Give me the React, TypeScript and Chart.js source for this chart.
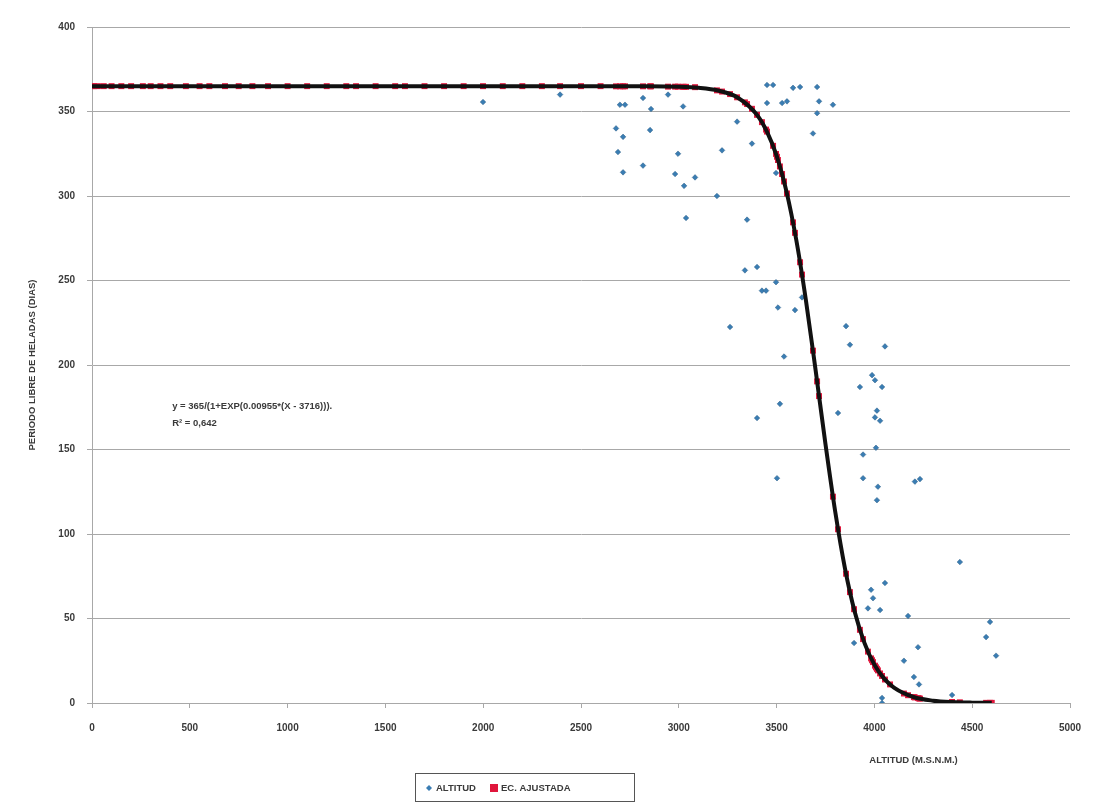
import React, { useEffect, useRef } from "react";
import { Chart, registerables } from "chart.js";

Chart.register(...registerables);

// Observed stations: altitude (m.s.n.m.) and frost-free period (days)
const obsAltitude = [
  1999, 2393, 2699, 2725, 2817, 2945, 2858, 3022, 2679, 2715, 2853, 2689, 2715, 2817, 2996, 2981,
  3083, 3027, 3037, 3195, 3221, 3298, 3374, 3349, 3451, 3482, 3451, 3528, 3553, 3584, 3620, 3707,
  3717, 3707, 3686, 3497, 3788, 3338, 3400, 3497, 3425, 3446, 3630, 3507, 3594, 3262, 3855, 3875,
  4054, 3538, 3988, 4003, 3926, 4039, 3517, 3400, 3814, 4013, 4003, 4029, 4008, 3942, 3502, 3942,
  4018, 4013, 4207, 4233, 4437, 4054, 3983, 3993, 3967, 4029, 4172, 4591, 4571, 4622, 3896, 4223,
  4151, 4202, 4228, 4039, 4039, 4397,
];
const obsDays = [
  355.6, 360, 354, 354, 358, 360, 351.5, 353, 340, 335, 339, 326, 314, 318, 325, 313,
  311, 306, 287, 300, 327, 344, 331, 286, 365.7, 365.7, 355, 355, 356, 364, 364.5, 364.5,
  356, 349, 337, 313.6, 354, 256, 258, 249, 244, 244, 240, 234, 232.5, 222.5, 223, 212,
  211, 205, 194, 191, 187, 187, 177, 168.6, 171.6, 173, 169, 167, 151, 147, 133, 133,
  128, 120, 131, 132.5, 83.4, 71, 67, 62, 56, 55, 51.5, 48, 39, 28, 35.5, 33,
  25, 15.4, 11, 3, 0, 4.7,
];

// Adjusted values (EC. AJUSTADA) at station altitudes
const fitAltitude = [
  0, 10, 30, 60, 100, 150, 200, 260, 300, 350, 400, 480, 550, 600, 680, 750, 820, 900, 1000,
  1100, 1200, 1300, 1350, 1450, 1550, 1600, 1700, 1800, 1900, 1999, 2100, 2200, 2300, 2393,
  2500, 2600, 2679, 2699, 2715, 2725, 2817, 2853, 2858, 2945, 2981, 2996, 3022, 3027, 3037,
  3083, 3195, 3221, 3262, 3298, 3338, 3349, 3374, 3400, 3425, 3446, 3451, 3482, 3497, 3502,
  3507, 3517, 3528, 3538, 3553, 3584, 3594, 3620, 3630, 3686, 3707, 3717, 3788, 3814, 3855,
  3875, 3896, 3926, 3942, 3967, 3983, 3988, 3993, 4003, 4008, 4013, 4018, 4029, 4039, 4054,
  4080, 4151, 4172, 4202, 4207, 4223, 4228, 4233, 4397, 4437, 4571, 4591, 4600,
];
const fitDays = [
  365, 365, 365, 365, 365, 365, 365, 365, 365, 365, 365, 365, 365, 365, 365, 365, 365, 365, 365,
  365, 365, 365, 365, 365, 365, 365, 365, 365, 365, 365, 365, 365, 365, 365,
  365, 365, 364.9, 364.9, 364.9, 364.9, 364.9, 364.9, 364.9, 364.7, 364.7, 364.7, 364.6, 364.6, 364.6,
  364.4, 362.5, 361.8, 360.3, 358.4, 355.4, 354.4, 351.6, 348, 343.7, 339.3, 338.1, 329.7, 324.9, 323.2,
  321.3, 317.5, 313, 308.6, 301.5, 284.4, 278.2, 260.8, 253.5, 208.5, 190.3, 181.6, 122.1, 102.8, 76.5,
  65.6, 55.5, 43.3, 37.8, 30.4, 26.4, 25.3, 24.2, 22.1, 21.1, 20.2, 19.3, 17.5, 16, 13.9,
  11, 5.6, 4.6, 3.5, 3.3, 2.9, 2.7, 2.6, 0.6, 0.4, 0.1, 0.1, 0.1,
];

// Fitted curve y = 365/(1+EXP(0.00955*(X-3716))) tabulated
const curveAltitude = [
  0, 500, 1000, 1500, 2000, 2500, 2800, 3000, 3100, 3200, 3300, 3400, 3450, 3500, 3550, 3600,
  3650, 3700, 3750, 3800, 3850, 3900, 3950, 4000, 4050, 4100, 4200, 4300, 4400, 4500, 4600,
];
const curveDays = [
  365, 365, 365, 365, 365, 365, 364.9, 364.6, 364, 362.4, 358.3, 348, 338.3, 323.9, 302.9, 274.4,
  238.2, 196.4, 153.1, 113, 79.4, 53.7, 35.3, 22.7, 14.4, 9.1, 3.55, 1.38, 0.53, 0.2, 0.08,
];

const xTicks = [0, 500, 1000, 1500, 2000, 2500, 3000, 3500, 4000, 4500, 5000];
const yTicks = [0, 50, 100, 150, 200, 250, 300, 350, 400];

const seriesNames = ["ALTITUD", "EC. AJUSTADA"];
const equationLines = ["y = 365/(1+EXP(0.00955*(X - 3716))).", "R² = 0,642"];
const xTitle = "ALTITUD (M.S.N.M.)";
const yTitle = "PERIODO LIBRE DE HELADAS (DIAS)";

const FONT = "'Liberation Sans', Arial, sans-serif";
const BLUE = "#3a7db3";
const RED = "#e0163c";
const TEXT = "#3a3a3a";
const GRID = "#a8a8a8";

const annotations = {
  id: "annotations",
  afterDraw(chart: any) {
    const ctx = chart.ctx;
    const xs = chart.scales.x;
    const ys = chart.scales.y;
    ctx.save();
    // equation
    ctx.fillStyle = TEXT;
    ctx.font = `bold 9.5px ${FONT}`;
    ctx.textAlign = "left";
    ctx.textBaseline = "middle";
    const ex = xs.getPixelForValue(410);
    ctx.fillText(equationLines[0], ex, ys.getPixelForValue(175.5));
    ctx.fillText(equationLines[1], ex, ys.getPixelForValue(165.5));
    // x title
    ctx.textAlign = "center";
    ctx.font = `bold 9.5px ${FONT}`;
    ctx.fillText(xTitle, xs.getPixelForValue(4200), 760);
    // legend
    const lx = 415, ly = 773, lw = 219, lh = 28;
    ctx.strokeStyle = "#555";
    ctx.lineWidth = 1;
    ctx.fillStyle = "#fff";
    ctx.fillRect(lx + 0.5, ly + 0.5, lw, lh);
    ctx.strokeRect(lx + 0.5, ly + 0.5, lw, lh);
    const cy = ly + lh / 2 + 1;
    // blue marker
    ctx.fillStyle = BLUE;
    ctx.beginPath();
    ctx.moveTo(429, cy - 3);
    ctx.lineTo(432, cy);
    ctx.lineTo(429, cy + 3);
    ctx.lineTo(426, cy);
    ctx.closePath();
    ctx.fill();
    ctx.fillStyle = TEXT;
    ctx.font = `bold 9.5px ${FONT}`;
    ctx.textAlign = "left";
    ctx.fillText(seriesNames[0], 436, cy);
    ctx.fillStyle = RED;
    ctx.fillRect(490, cy - 4, 8, 8);
    ctx.fillStyle = TEXT;
    ctx.fillText(seriesNames[1], 501, cy);
    ctx.restore();
  },
};

export default function App() {
  const ref = useRef<HTMLCanvasElement>(null);
  useEffect(() => {
    document.body.style.margin = "0";
    const canvas = ref.current!;
    const chart = new Chart(canvas, {
      type: "scatter",
      data: {
        datasets: [
          {
            label: "curve",
            data: curveAltitude.map((x, i) => ({ x, y: curveDays[i] })),
            showLine: true,
            borderColor: "#111",
            borderWidth: 4,
            pointRadius: 0,
            cubicInterpolationMode: "monotone",
            order: 0,
          } as any,
          {
            label: seriesNames[1],
            data: fitAltitude.map((x, i) => ({ x, y: fitDays[i] })),
            pointStyle: "rect",
            pointRadius: 4.2,
            backgroundColor: RED,
            borderColor: RED,
            borderWidth: 0,
            order: 1,
          },
          {
            label: seriesNames[0],
            data: obsAltitude.map((x, i) => ({ x, y: obsDays[i] })),
            pointStyle: "rectRot",
            pointRadius: 2.8,
            backgroundColor: BLUE,
            borderColor: "#2d5f86",
            borderWidth: 0.5,
            order: 2,
          },
        ],
      },
      options: {
        responsive: false,
        devicePixelRatio: 1,
        animation: false,
        layout: { padding: { top: 27, right: 27, bottom: 0, left: 0 } },
        plugins: {
          legend: { display: false },
          tooltip: { enabled: false },
        },
        scales: {
          x: {
            type: "linear",
            min: 0,
            max: 5000,
            afterBuildTicks: (s: any) => {
              s.ticks = xTicks.map((v) => ({ value: v }));
            },
            afterFit: (s: any) => {
              s.height = 102;
            },
            grid: {
              display: true,
              drawOnChartArea: false,
              drawTicks: true,
              tickLength: 5,
              color: GRID,
            },
            border: { color: GRID, width: 1 },
            ticks: {
              padding: 14,
              color: TEXT,
              font: { family: FONT, size: 10, weight: "bold" },
              callback: (v: any) => String(v),
            },
          },
          y: {
            type: "linear",
            min: 0,
            max: 400,
            afterBuildTicks: (s: any) => {
              s.ticks = yTicks.map((v) => ({ value: v }));
            },
            afterFit: (s: any) => {
              s.width = 92;
            },
            grid: {
              color: GRID,
              lineWidth: 1,
              drawTicks: true,
              tickLength: 5,
            },
            border: { color: GRID, width: 1 },
            title: {
              display: true,
              text: yTitle,
              color: TEXT,
              font: { family: FONT, size: 9.5, weight: "bold" },
              padding: { top: 27, bottom: 0 },
            },
            ticks: {
              padding: 12,
              color: TEXT,
              font: { family: FONT, size: 10, weight: "bold" },
              callback: (v: any) => String(v),
            },
          },
        },
      } as any,
      plugins: [annotations],
    });
    return () => chart.destroy();
  }, []);
  return (
    <div style={{ position: "absolute", left: 0, top: 0, width: 1097, height: 805, background: "#fff" }}>
      <canvas ref={ref} width={1097} height={805} />
    </div>
  );
}
